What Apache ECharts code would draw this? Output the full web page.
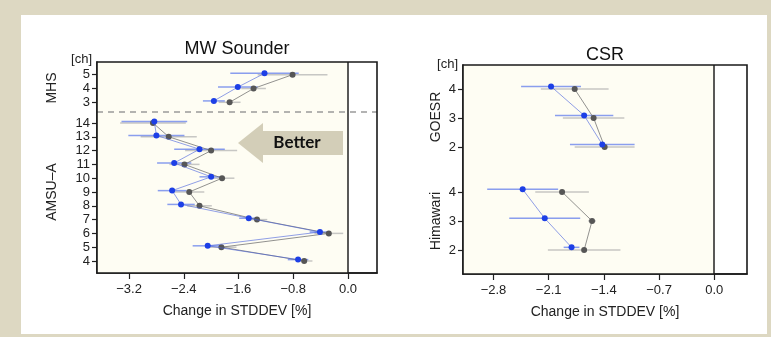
<!DOCTYPE html>
<html>
<head>
<meta charset="utf-8">
<script src="https://cdn.jsdelivr.net/npm/echarts@6/dist/echarts.min.js"></script>
<style>
html,body{margin:0;padding:0;}
#wrap{position:relative;width:771px;height:337px;background:#ddd8c2;overflow:hidden;}
#paper{position:absolute;left:21px;top:15px;width:746px;height:319px;background:#ffffff;}
#chart{position:absolute;left:0;top:0;width:771px;height:337px;}
</style>
</head>
<body>
<div id="wrap"><div id="paper"></div><div id="chart"></div></div>
<script>
// ---------- MW Sounder data ----------
const amsuCh = [4, 5, 6, 7, 8, 9, 10, 11, 12, 13, 14];
const amsuBlue = [-0.73, -2.05, -0.41, -1.45, -2.44, -2.57, -2.00, -2.54, -2.17, -2.80, -2.83];
const amsuBlueErr = [0.15, 0.22, 0.15, 0.14, 0.20, 0.21, 0.17, 0.25, 0.37, 0.41, 0.48];
const amsuGray = [-0.64, -1.85, -0.28, -1.33, -2.17, -2.32, -1.84, -2.39, -2.00, -2.62, -2.85];
const amsuGrayErr = [0.12, 0.22, 0.21, 0.15, 0.18, 0.22, 0.18, 0.22, 0.38, 0.41, 0.48];
const mhsCh = [3, 4, 5];
const mhsBlue = [-1.96, -1.61, -1.22];
const mhsBlueErr = [0.16, 0.29, 0.50];
const mhsGray = [-1.73, -1.38, -0.81];
const mhsGrayErr = [0.16, 0.18, 0.51];
const mwTicks = [-3.2, -2.4, -1.6, -0.8, 0.0];

// ---------- CSR data ----------
const goesCh = [2, 3, 4];
const goesBlue = [-1.42, -1.65, -2.07];
const goesBlueErr = [0.41, 0.37, 0.38];
const goesGray = [-1.39, -1.53, -1.77];
const goesGrayErr = [0.38, 0.39, 0.43];
const himCh = [2, 3, 4];
const himBlue = [-1.81, -2.15, -2.43];
const himBlueErr = [0.10, 0.45, 0.45];
const himGray = [-1.65, -1.55, -1.93];
const himGrayErr = [0.46, 0.05, 0.34];
const csrTicks = [-2.8, -2.1, -1.4, -0.7, 0.0];

// ---------- layout helpers ----------
const FONT = '"Liberation Sans", Arial, Helvetica, sans-serif';
const amsuPos = amsuCh.map(c => c - 4);
const mhsPos = mhsCh.map(c => c + 8.5);
const himPos = himCh.map(c => c - 2);
const goesPos = goesCh.map(c => c + 1.55);
const offL = 0.1, offR = 0.09;

const G1 = {left: 97, top: 62, width: 280, height: 211};
const G2 = {left: 463, top: 65, width: 284, height: 209};
const X1 = [-3.668, 0.424], Y1 = [-0.87, 14.42];
const X2 = [-3.187, 0.416], Y2 = [-0.83, 6.38];

const BLUE = '#1d3fe6', GRAY = '#565656';
const BLUE_LINE = 'rgba(70,95,220,0.6)', GRAY_LINE = 'rgba(110,110,110,0.75)';
const BLUE_BAR = 'rgba(60,95,235,0.6)', GRAY_BAR = 'rgba(175,175,175,0.7)';

function fmtX(v){ return (v < 0 ? '\u2212' : '') + Math.abs(v).toFixed(1); }

function errBars(xi, vals, errs, pos, off, color, z){
  return {
    type: 'custom', xAxisIndex: xi, yAxisIndex: xi, z: z, silent: true,
    data: vals.map((v, i) => [v, pos[i] + off, errs[i]]),
    encode: {x: 0, y: 1},
    renderItem: function(params, api){
      const x = api.value(0), y = api.value(1), e = api.value(2);
      const a = api.coord([x - e, y]), b = api.coord([x + e, y]);
      return {type: 'line', shape: {x1: a[0], y1: a[1], x2: b[0], y2: b[1]},
              style: {stroke: color, lineWidth: 1.5}};
    }
  };
}
function pts(xi, vals, pos, off, color, lineColor, z){
  return {
    type: 'line', xAxisIndex: xi, yAxisIndex: xi, z: z, silent: true,
    data: vals.map((v, i) => [v, pos[i] + off]),
    symbol: 'circle', symbolSize: 6, showSymbol: true,
    itemStyle: {color: color},
    lineStyle: {color: lineColor, width: 1},
    animation: false
  };
}
function labelMap(chs, pos){
  const m = {};
  chs.forEach((c, i) => { m[pos[i].toFixed(2)] = String(c); });
  return m;
}
const lmap1 = Object.assign(labelMap(amsuCh, amsuPos), labelMap(mhsCh, mhsPos));
const lmap2 = Object.assign(labelMap(himCh, himPos), labelMap(goesCh, goesPos));

function xAxisOpt(gi, ext, ticks){
  return {
    type: 'value', gridIndex: gi, min: ext[0], max: ext[1],
    axisLine: {show: true, onZero: false, lineStyle: {color: '#1a1a1a', width: 1.6}},
    axisTick: {show: true, inside: false, length: 6, customValues: ticks, lineStyle: {color: '#222', width: 1.2}},
    axisLabel: {customValues: ticks, formatter: fmtX, fontSize: 13, color: '#222', margin: 10, fontFamily: FONT},
    splitLine: {show: false},
    name: 'Change in STDDEV [%]', nameLocation: 'middle', nameGap: 31,
    nameTextStyle: {fontSize: 14, color: '#222', fontFamily: FONT}
  };
}
function yAxisOpt(gi, ext, positions, lmap){
  return {
    type: 'value', gridIndex: gi, min: ext[0], max: ext[1],
    axisLine: {show: true, onZero: false, lineStyle: {color: '#1a1a1a', width: 1.6}},
    axisTick: {show: true, inside: false, length: 5, customValues: positions, lineStyle: {color: '#222', width: 1.2}},
    axisLabel: {customValues: positions, formatter: v => lmap[Number(v).toFixed(2)] || '',
                fontSize: 13, color: '#222', margin: 7, fontFamily: FONT, lineHeight: 13},
    splitLine: {show: false}
  };
}

const chart = echarts.init(document.getElementById('chart'), null, {renderer: 'canvas'});
const CREAM = '#fefdf3';

const option = {
  animation: false,
  backgroundColor: 'transparent',
  grid: [
    Object.assign({containLabel: false}, G1),
    Object.assign({containLabel: false}, G2)
  ],
  xAxis: [xAxisOpt(0, X1, mwTicks), xAxisOpt(1, X2, csrTicks)],
  yAxis: [yAxisOpt(0, Y1, amsuPos.concat(mhsPos), lmap1), yAxisOpt(1, Y2, himPos.concat(goesPos), lmap2)],
  series: [
    {
      type: 'line', xAxisIndex: 0, yAxisIndex: 0, data: [], z: 0, silent: true,
      markArea: {silent: true, itemStyle: {color: CREAM}, data: [[{coord: [X1[0], Y1[0]]}, {coord: [0, Y1[1]]}]]}
    },
    {
      type: 'line', xAxisIndex: 1, yAxisIndex: 1, data: [], z: 0, silent: true,
      markArea: {silent: true, itemStyle: {color: CREAM}, data: [[{coord: [X2[0], Y2[0]]}, {coord: [0, Y2[1]]}]]}
    },
    errBars(0, amsuGray, amsuGrayErr, amsuPos, 0, GRAY_BAR, 2),
    errBars(0, mhsGray, mhsGrayErr, mhsPos, 0, GRAY_BAR, 2),
    errBars(0, amsuBlue, amsuBlueErr, amsuPos, offL, BLUE_BAR, 2),
    errBars(0, mhsBlue, mhsBlueErr, mhsPos, offL, BLUE_BAR, 2),
    errBars(1, goesGray, goesGrayErr, goesPos, 0, GRAY_BAR, 2),
    errBars(1, himGray, himGrayErr, himPos, 0, GRAY_BAR, 2),
    errBars(1, goesBlue, goesBlueErr, goesPos, offR, BLUE_BAR, 2),
    errBars(1, himBlue, himBlueErr, himPos, offR, BLUE_BAR, 2),
    Object.assign(pts(0, amsuGray, amsuPos, 0, GRAY, GRAY_LINE, 3), {
      markLine: {silent: true, symbol: 'none', label: {show: false}, animation: false,
        data: [
          [{coord: [0, Y1[0]], lineStyle: {color: '#222', width: 1.5, type: 'solid'}}, {coord: [0, Y1[1]]}],
          [{coord: [X1[0], 10.8], lineStyle: {color: '#9a9a9a', width: 1.5, type: [6, 5]}}, {coord: [X1[1], 10.8]}]
        ]}
    }),
    pts(0, mhsGray, mhsPos, 0, GRAY, GRAY_LINE, 3),
    pts(0, amsuBlue, amsuPos, offL, BLUE, BLUE_LINE, 4),
    pts(0, mhsBlue, mhsPos, offL, BLUE, BLUE_LINE, 4),
    Object.assign(pts(1, goesGray, goesPos, 0, GRAY, GRAY_LINE, 3), {
      markLine: {silent: true, symbol: 'none', label: {show: false}, animation: false,
        data: [[{coord: [0, Y2[0]], lineStyle: {color: '#222', width: 1.5, type: 'solid'}}, {coord: [0, Y2[1]]}]]}
    }),
    pts(1, himGray, himPos, 0, GRAY, GRAY_LINE, 3),
    pts(1, goesBlue, goesPos, offR, BLUE, BLUE_LINE, 4),
    pts(1, himBlue, himPos, offR, BLUE, BLUE_LINE, 4)
  ],
  graphic: [
    {type: 'rect', z: 100, silent: true, shape: {x: G1.left, y: G1.top, width: G1.width, height: G1.height},
     style: {fill: 'none', stroke: '#1a1a1a', lineWidth: 1.6}},
    {type: 'rect', z: 100, silent: true, shape: {x: G2.left, y: G2.top, width: G2.width, height: G2.height},
     style: {fill: 'none', stroke: '#1a1a1a', lineWidth: 1.6}},
    {type: 'text', z: 100, x: 237, y: 40, style: {text: 'MW Sounder', font: '18px ' + FONT, fill: '#111', align: 'center'}},
    {type: 'text', z: 100, x: 605, y: 46, style: {text: 'CSR', font: '18px ' + FONT, fill: '#111', align: 'center'}},
    {type: 'text', z: 100, x: 92, y: 53, style: {text: '[ch]', font: '13px ' + FONT, fill: '#222', align: 'right'}},
    {type: 'text', z: 100, x: 458, y: 58, style: {text: '[ch]', font: '13px ' + FONT, fill: '#222', align: 'right'}},
    {type: 'text', z: 100, x: 52, y: 88, rotation: Math.PI / 2, style: {text: 'MHS', font: '14px ' + FONT, fill: '#222', align: 'center', verticalAlign: 'middle'}},
    {type: 'text', z: 100, x: 52, y: 192, rotation: Math.PI / 2, style: {text: 'AMSU\u2013A', font: '14px ' + FONT, fill: '#222', align: 'center', verticalAlign: 'middle'}},
    {type: 'text', z: 100, x: 436, y: 117, rotation: Math.PI / 2, style: {text: 'GOESR', font: '14px ' + FONT, fill: '#222', align: 'center', verticalAlign: 'middle'}},
    {type: 'text', z: 100, x: 436, y: 221, rotation: Math.PI / 2, style: {text: 'Himawari', font: '14px ' + FONT, fill: '#222', align: 'center', verticalAlign: 'middle'}},
    {type: 'polygon', z: 90, silent: true,
     shape: {points: [[238, 143], [263, 123], [263, 131], [343, 131], [343, 155], [263, 155], [263, 163]]},
     style: {fill: '#d3ceb8'}},
    {type: 'text', z: 95, x: 297, y: 143, style: {text: 'Better', font: 'bold 17px Lato, "Open Sans", sans-serif', fill: '#111', align: 'center', verticalAlign: 'middle'}}
  ]
};
chart.setOption(option);
</script>
</body>
</html>
